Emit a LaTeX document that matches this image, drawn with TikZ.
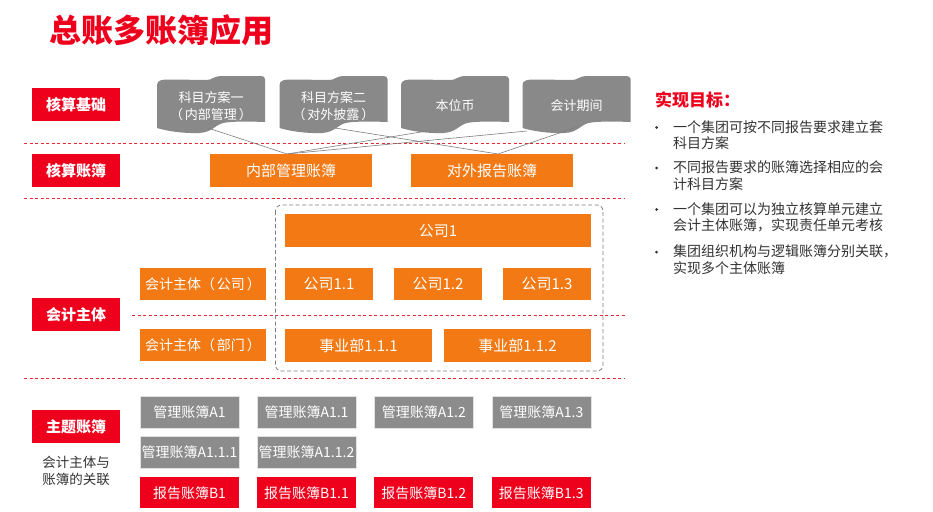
\documentclass[tikz,border=0pt]{standalone}
\usepackage{fontspec}
\setmainfont{Noto Sans CJK SC}
\definecolor{cred}{RGB}{238,0,28}
\definecolor{corange}{RGB}{242,121,19}
\definecolor{cgray}{RGB}{137,137,137}
\definecolor{cgraybox}{RGB}{140,140,140}
\definecolor{cdash}{RGB}{232,40,52}
\definecolor{cconn}{RGB}{125,125,125}
\definecolor{ctext}{RGB}{50,50,50}
\newcommand{\lp}{（\kern2pt}
\newcommand{\rp}{\kern2pt）}
\tikzset{
  lbl/.style={fill=cred, text=white, font=\fontsize{15}{15}\selectfont\bfseries, minimum width=88pt, minimum height=33pt, inner sep=0pt},
  obox/.style={fill=corange, text=white, font=\fontsize{15}{15}\selectfont, inner sep=0pt},
  gbox/.style={fill=cgraybox, draw=white!75!cgraybox, line width=0.6pt, text=white, font=\fontsize{14}{14}\selectfont, minimum width=99pt, minimum height=32pt, inner sep=0pt},
  rbox/.style={fill=cred, text=white, font=\fontsize{14}{14}\selectfont, minimum width=99pt, minimum height=31pt, inner sep=0pt},
  sepline/.style={draw=cdash, line width=0.8pt, dash pattern=on 3pt off 2.5pt},
  conn/.style={draw=cconn, line width=0.6pt},
  tapetext/.style={text=white, font=\fontsize{13}{17}\selectfont, align=center, inner sep=0pt},
  bul/.style={text=ctext, font=\fontsize{14}{14}\selectfont, anchor=west, inner sep=0pt},
  dot/.style={circle, fill=ctext, minimum size=3pt, inner sep=0pt},
  tape/.pic={
    \fill[cgray] (0,9) .. controls (0,4) and (5,3.5) .. (14,3.5)
      -- (50,4) .. controls (55,4) and (57,0) .. (64,0)
      -- (104,0) .. controls (106,0) and (108,1) .. (108,3)
      -- (108,46)
      .. controls (95,45.5) and (75,45) .. (66,47)
      .. controls (58,49) and (55,56.5) .. (42,57)
      .. controls (25,57.5) and (10,55) .. (0,52)
      -- cycle;
  }
}
\begin{document}
\begin{tikzpicture}[x=1pt,y=-1pt]
\useasboundingbox (0,0) rectangle (933,511);

% title
\node[text=cred, font=\fontsize{32}{32}\selectfont\bfseries, inner sep=0pt] (title) at (161,30) {总账多账簿应用};

% separators
\coordinate (s1a) at (24,143.5); \coordinate (s1b) at (625,143.5);
\coordinate (s2a) at (24,198); \coordinate (s2b) at (625,198);
\coordinate (s3a) at (132,315); \coordinate (s3b) at (625,315);
\coordinate (s4a) at (24,378); \coordinate (s4b) at (625,378);
\draw[sepline] (s1a) -- (s1b);
\draw[sepline] (s2a) -- (s2b);
\draw[sepline] (s3a) -- (s3b);
\draw[sepline] (s4a) -- (s4b);

% left labels
\node[lbl] (L1) at (76,104.5) {核算基础};
\node[lbl] (L2) at (76,170.5) {核算账簿};
\node[lbl] (L3) at (76,314.5) {会计主体};
\node[lbl] (L4) at (76,426.5) {主题账簿};
\node[text=ctext, font=\fontsize{13.5}{16.6}\selectfont, align=center, inner sep=0pt] (L4note) at (76,471) {会计主体与\\账簿的关联};

% tape shapes
\pic at (157,76) {tape};
\pic at (279.5,76) {tape};
\pic at (401,76) {tape};
\pic at (522.5,76) {tape};
\node[tapetext] (t1) at (211,105.8) {科目方案一\\\lp 内部管理\rp};
\node[tapetext] (t2) at (333.5,105.8) {科目方案二\\\lp 对外披露\rp};
\node[tapetext] (t3) at (455,106) {本位币};
\node[tapetext] (t4) at (576.5,106) {会计期间};

% connector end points
\coordinate (t1b) at (208,128);
\coordinate (t2b) at (335,128);
\coordinate (t3b) at (424,131.5);
\coordinate (t4b) at (527,131);
\coordinate (t4c) at (577,127);
\coordinate (inA) at (287,154);
\coordinate (outA) at (498,154);

\draw[conn] (t1b) -- (inA);
\draw[conn] (t3b) -- (inA);
\draw[conn] (t4b) -- (inA);
\draw[conn] (t2b) -- (outA);
\draw[conn] (t4c) -- (outA);

% ledgers
\node[obox, minimum width=162pt, minimum height=33pt] (inner) at (291,170.5) {内部管理账簿};
\node[obox, minimum width=162.5pt, minimum height=33pt] (outer) at (492.2,170.5) {对外报告账簿};

% entity frame
\draw[draw=cconn, line width=0.8pt, dash pattern=on 4pt off 2.5pt, rounded corners=6pt] (275.5,205) rectangle (603,371);

\node[obox, minimum width=306pt, minimum height=33pt] (c1) at (438,230.5) {公司1};
\node[obox, minimum width=88pt, minimum height=32pt] (c11) at (329,284) {公司1.1};
\node[obox, minimum width=88pt, minimum height=32pt] (c12) at (438,284) {公司1.2};
\node[obox, minimum width=88pt, minimum height=32pt] (c13) at (547,284) {公司1.3};
\node[obox, minimum width=147pt, minimum height=33pt] (d1) at (358.5,345.5) {事业部1.1.1};
\node[obox, minimum width=147pt, minimum height=33pt] (d2) at (517.5,345.5) {事业部1.1.2};
\node[obox, minimum width=126pt, minimum height=32pt, font=\fontsize{14}{14}\selectfont] (ec) at (203,284) {会计主体\lp 公司\rp};
\node[obox, minimum width=126pt, minimum height=32pt, font=\fontsize{14}{14}\selectfont] (ed) at (203,345) {会计主体\lp 部门\rp};

% books
\node[gbox] (a1) at (189.5,412) {管理账簿A1};
\node[gbox] (a11) at (306.5,412) {管理账簿A1.1};
\node[gbox] (a12) at (423.8,412) {管理账簿A1.2};
\node[gbox] (a13) at (541.3,412) {管理账簿A1.3};
\node[gbox] (a111) at (189.5,452) {管理账簿A1.1.1};
\node[gbox] (a112) at (306.5,452) {管理账簿A1.1.2};
\node[rbox] (b1) at (189.5,492.8) {报告账簿B1};
\node[rbox] (b11) at (306.5,492.8) {报告账簿B1.1};
\node[rbox] (b12) at (423.8,492.8) {报告账簿B1.2};
\node[rbox] (b13) at (541.3,492.8) {报告账簿B1.3};

% goals
\node[text=cred, font=\fontsize{17}{17}\selectfont\bfseries, anchor=west, inner sep=0pt] (goal) at (655,99.5) {实现目标：};
\node[dot] (d01) at (656.5,127.5) {};
\node[bul] (g1a) at (673,126.7) {一个集团可按不同报告要求建立套};
\node[bul] (g1b) at (673,143.3) {科目方案};
\node[dot] (d02) at (656.5,168) {};
\node[bul] (g2a) at (673,167.3) {不同报告要求的账簿选择相应的会};
\node[bul] (g2b) at (673,184.5) {计科目方案};
\node[dot] (d03) at (656.5,209.5) {};
\node[bul] (g3a) at (673,208.8) {一个集团可以为独立核算单元建立};
\node[bul] (g3b) at (673,225.7) {会计主体账簿，实现责任单元考核};
\node[dot] (d04) at (656.5,252.2) {};
\node[bul] (g4a) at (673,251.5) {集团组织机构与逻辑账簿分别关联，};
\node[bul] (g4b) at (673,267.7) {实现多个主体账簿};
\end{tikzpicture}
\end{document}
